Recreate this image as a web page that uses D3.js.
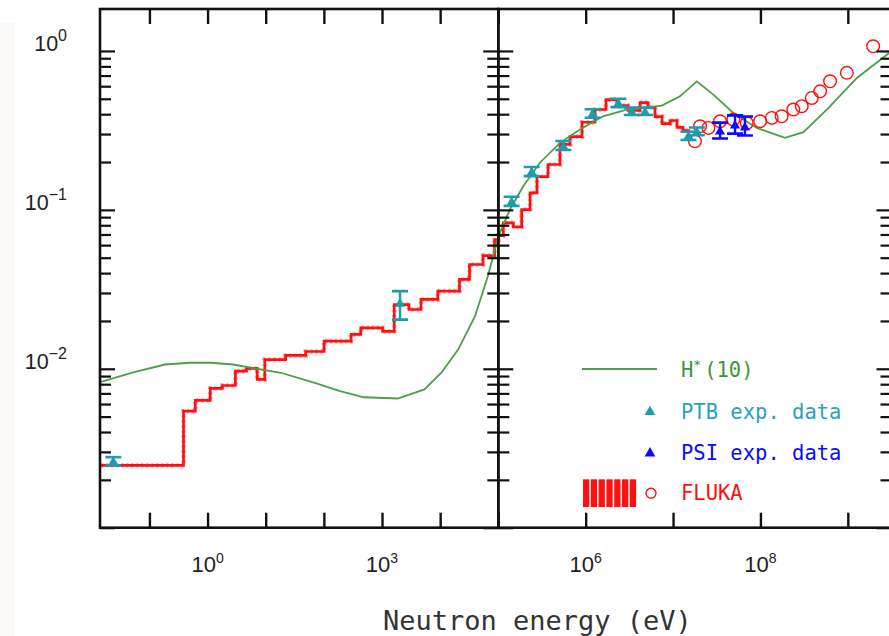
<!DOCTYPE html>
<html>
<head>
<meta charset="utf-8">
<script src="https://cdn.jsdelivr.net/npm/d3@7"></script>
<style>
  body { margin: 0; background: #fff; }
  svg { display: block; }
</style>
</head>
<body>
<div id="chart"></div>
<script>
// --- Data, energies in eV ---
// H*(10) conversion curve: [energy, value]
const hStar10 = [
  [0.0141, 0.00824], [0.0525, 0.00948], [0.186, 0.01064], [0.501, 0.01091],
  [1.12, 0.01091], [2.75, 0.01064], [8.13, 0.00991], [18.2, 0.00944],
  [67.6, 0.00817], [191, 0.00723], [490, 0.00662], [1860, 0.00650],
  [5370, 0.00741], [1.05e4, 0.00944], [2.04e4, 0.0132], [3.98e4, 0.0214],
  [6.61e4, 0.0382], [1e5, 0.0682], [1.36e5, 0.1005], [1.93e5, 0.1406],
  [3.0e5, 0.198], [5.08e5, 0.264], [8.61e5, 0.320], [1.58e6, 0.388],
  [2.95e6, 0.428], [7.43e6, 0.453], [1.2e7, 0.518], [1.87e7, 0.644],
  [2.89e7, 0.531], [4.9e7, 0.407], [9.08e7, 0.328], [1.91e8, 0.284],
  [3.1e8, 0.308], [5.75e8, 0.428], [1.27e9, 0.676], [2.97e9, 0.970]
];

// FLUKA low-energy groups: [lower edge, value]; last group ends at flukaGroupEnd
const flukaGroups = [
  [0.01, 0.00247], [0.386, 0.00541], [0.615, 0.00632], [1.11, 0.00752],
  [1.80, 0.00785], [3.01, 0.00966], [4.67, 0.01005], [7.13, 0.00857],
  [9.64, 0.01143], [22.0, 0.01213], [48.6, 0.01285], [101, 0.01493],
  [294, 0.01644], [432, 0.01811], [1023, 0.01722], [1622, 0.02535],
  [2911, 0.0236], [4688, 0.0273], [9100, 0.0308], [2.15e4, 0.0365],
  [3.2e4, 0.0453], [5.45e4, 0.0516], [8.63e4, 0.065], [1e5, 0.0689],
  [1.14e5, 0.0828], [1.49e5, 0.078], [1.85e5, 0.1005], [2.31e5, 0.128],
  [2.77e5, 0.162], [3.71e5, 0.193], [5.08e5, 0.258], [6.62e5, 0.289],
  [9.08e5, 0.356], [1.28e6, 0.428], [1.71e6, 0.494], [2.29e6, 0.453],
  [3.05e6, 0.422], [4.19e6, 0.473], [5.18e6, 0.441], [6.22e6, 0.386],
  [7.48e6, 0.349], [9.25e6, 0.365], [1.11e7, 0.330], [1.30e7, 0.315]
];
const flukaGroupEnd = 1.56e7;

// FLUKA high-energy points (circles)
const flukaHigh = [
  [1.78e7, 0.270], [2.04e7, 0.336], [2.54e7, 0.328], [3.45e7, 0.361],
  [4.9e7, 0.370], [6.98e7, 0.352], [9.91e7, 0.361], [1.35e8, 0.379],
  [1.75e8, 0.388], [2.38e8, 0.428], [2.97e8, 0.449], [3.87e8, 0.506],
  [4.82e8, 0.557], [6.27e8, 0.644], [9.75e8, 0.728], [1.95e9, 1.07]
];

// PTB experimental data: [energy, value, low, high]
const ptbData = [
  [0.0239, 0.00262, 0.00247, 0.00278],
  [2040, 0.026, 0.0204, 0.0308],
  [1.42e5, 0.113, 0.106, 0.121],
  [2.41e5, 0.174, 0.163, 0.186],
  [5.55e5, 0.254, 0.238, 0.271],
  [1.2e6, 0.405, 0.38, 0.43],
  [2.37e6, 0.471, 0.443, 0.50],
  [3.37e6, 0.417, 0.395, 0.44],
  [4.78e6, 0.417, 0.395, 0.44],
  [1.5e7, 0.293, 0.275, 0.31],
  [1.87e7, 0.312, 0.295, 0.33]
];

// PSI experimental data: [energy, value, low, high]
const psiData = [
  [3.45e7, 0.315, 0.281, 0.354],
  [5.12e7, 0.344, 0.302, 0.393],
  [6.65e7, 0.334, 0.294, 0.387]
];

// axes
const yDomain = [1e-3, Math.pow(10, 0.264)];
const yLabelExps = [0, -1, -2];
const xDomainLow = [Math.pow(10, -1.85), 1e5];
const xDomainHigh = [1e5, Math.pow(10, 9.5)];
const xLabelExpsLow = [0, 3];
const xLabelExpsHigh = [6, 8];
const xTitle = "Neutron energy (eV)";

const legendItems = ["H", "PTB exp. data", "PSI exp. data", "FLUKA"];

// --- Colors ---
const cGreen = "#4b9f46";
const cTeal = "#1d9cb0";
const cBlue = "#0a0aff";
const cRed = "#ff1010";
const cAxis = "#111";

const width = 889, height = 636;
const plotTop = 9, plotBottom = 527.7;
const xSplit = 498.3;

const svg = d3.select("#chart").append("svg")
  .attr("width", width)
  .attr("height", height);

// faint strip at the left edge
svg.append("rect").attr("x", 0).attr("y", 23).attr("width", 15).attr("height", height - 23)
  .attr("fill", "#fbf8f8");

const y = d3.scaleLog().domain(yDomain).range([plotBottom, plotTop]);

const panels = [
  { id: "low", x: d3.scaleLog().domain(xDomainLow).range([100, xSplit]), exps: xLabelExpsLow },
  { id: "high", x: d3.scaleLog().domain(xDomainHigh).range([xSplit, 891.5]), exps: xLabelExpsHigh }
];

const isDecade = v => Math.abs(Math.log10(v) - Math.round(Math.log10(v))) < 1e-9;
const yAll = y.ticks();
const yMajor = yAll.filter(isDecade);
const yMinor = yAll.filter(v => !isDecade(v));

// FLUKA step path points
const stepPts = [];
flukaGroups.forEach((g, i) => {
  const hi = i < flukaGroups.length - 1 ? flukaGroups[i + 1][0] : flukaGroupEnd;
  stepPts.push([g[0], g[1]], [hi, g[1]]);
});

panels.forEach(p => {
  const x = p.x;
  const [r0, r1] = x.range();

  svg.append("clipPath").attr("id", "clip-" + p.id)
    .append("rect")
    .attr("x", r0).attr("y", plotTop)
    .attr("width", r1 - r0).attr("height", plotBottom - plotTop);

  const g = svg.append("g").attr("clip-path", `url(#clip-${p.id})`);

  const line = d3.line().x(d => x(d[0])).y(d => y(d[1]));

  // FLUKA histogram (hatched edge + main line)
  g.append("path")
    .attr("d", line(stepPts))
    .attr("fill", "none")
    .attr("stroke", cRed)
    .attr("stroke-width", 4.6)
    .attr("stroke-dasharray", "2,3")
    .attr("opacity", 0.4);
  g.append("path")
    .attr("d", line(stepPts))
    .attr("fill", "none")
    .attr("stroke", cRed)
    .attr("stroke-width", 2.7);

  // H*(10)
  g.append("path")
    .attr("d", line(hStar10))
    .attr("fill", "none")
    .attr("stroke", cGreen)
    .attr("stroke-width", 1.8);

  // FLUKA circles
  g.selectAll("circle.fluka")
    .data(flukaHigh)
    .join("circle")
    .attr("class", "fluka")
    .attr("cx", d => x(d[0]))
    .attr("cy", d => y(d[1]))
    .attr("r", 6.3)
    .attr("fill", "none")
    .attr("stroke", cRed)
    .attr("stroke-width", 1.4);

  // experimental points with error bars
  const tri = d3.symbol(d3.symbolTriangle, 45);
  [[ptbData, cTeal], [psiData, cBlue]].forEach(([data, col]) => {
    const pts = g.append("g").selectAll("g")
      .data(data)
      .join("g")
      .attr("transform", d => `translate(${x(d[0])},0)`);
    pts.append("line")
      .attr("y1", d => y(d[2])).attr("y2", d => y(d[3]))
      .attr("stroke", col).attr("stroke-width", 2.4);
    [2, 3].forEach(k => {
      pts.append("line")
        .attr("x1", -8).attr("x2", 8)
        .attr("y1", d => y(d[k])).attr("y2", d => y(d[k]))
        .attr("stroke", col).attr("stroke-width", 2.6);
    });
    pts.append("path")
      .attr("d", tri)
      .attr("transform", d => `translate(0,${y(d[1]) + 1})`)
      .attr("fill", col);
  });

  // x ticks (bottom up, top down)
  const decades = x.ticks().filter(isDecade);
  const xb = svg.append("g")
    .attr("transform", `translate(0,${plotBottom})`)
    .call(d3.axisTop(x).tickValues(decades).tickSize(15).tickFormat(""));
  const xt = svg.append("g")
    .attr("transform", `translate(0,${plotTop})`)
    .call(d3.axisBottom(x).tickValues(decades).tickSize(15).tickFormat(""));
  [xb, xt].forEach(a => {
    a.select(".domain").remove();
    a.selectAll("line").attr("stroke", cAxis).attr("stroke-width", 2.4);
  });

  // x tick labels
  const lab = svg.append("g")
    .selectAll("text")
    .data(p.exps)
    .join("text")
    .attr("x", d => x(Math.pow(10, d)))
    .attr("y", 571.7)
    .attr("text-anchor", "middle")
    .attr("font-family", "'Liberation Sans', Arial, sans-serif")
    .attr("font-size", 22)
    .attr("fill", "#222");
  lab.append("tspan").text("10");
  lab.append("tspan").attr("dy", -9).attr("font-size", 14).text(d => d);
});

// y axes: left (inward), divider (both sides), right (inward)
function yAxis(xPos, dir) {
  const mk = dir > 0 ? d3.axisRight : d3.axisLeft;
  [[yMinor, 11], [yMajor, 15]].forEach(([vals, size]) => {
    const a = svg.append("g")
      .attr("transform", `translate(${xPos},0)`)
      .call(mk(y).tickValues(vals).tickSize(size).tickFormat(""));
    a.select(".domain").remove();
    a.selectAll("line").attr("stroke", cAxis).attr("stroke-width", 2.2);
  });
}
yAxis(100, 1);
yAxis(xSplit, -1);
yAxis(xSplit, 1);
yAxis(891.5, -1);

// frames
panels.forEach(p => {
  const [r0, r1] = p.x.range();
  svg.append("rect")
    .attr("x", r0).attr("y", plotTop)
    .attr("width", r1 - r0).attr("height", plotBottom - plotTop)
    .attr("fill", "none")
    .attr("stroke", cAxis)
    .attr("stroke-width", 2.6);
});

// y tick labels
const yl = svg.append("g")
  .selectAll("text")
  .data(yLabelExps)
  .join("text")
  .attr("x", 67)
  .attr("y", d => y(Math.pow(10, d)) + 0.5)
  .attr("text-anchor", "end")
  .attr("font-family", "'Liberation Sans', Arial, sans-serif")
  .attr("font-size", 21.5)
  .attr("fill", "#222");
yl.append("tspan").text("10");
yl.append("tspan").attr("dy", -10).attr("font-size", 16).text(d => d === 0 ? "0" : "\u2212" + Math.abs(d));

// x title
svg.append("text")
  .attr("x", 383)
  .attr("y", 630)
  .attr("font-family", "'DejaVu Sans Mono', monospace")
  .attr("font-size", 27)
  .attr("fill", "#333")
  .text(xTitle);

// --- Legend ---
const leg = svg.append("g");
const legFont = "'DejaVu Sans Mono', monospace";

leg.append("line")
  .attr("x1", 582).attr("x2", 657).attr("y1", 369).attr("y2", 369)
  .attr("stroke", cGreen).attr("stroke-width", 2);
const hText = leg.append("text")
  .attr("x", 681).attr("y", 376.7)
  .attr("font-family", legFont).attr("font-size", 20.5)
  .attr("fill", "#3a963a");
hText.append("tspan").text(legendItems[0]);
hText.append("tspan").attr("dy", -8).attr("font-size", 13).text("*");
hText.append("tspan").attr("dy", 8).attr("dx", 3).text("(10)");

const tri = d3.symbol(d3.symbolTriangle, 50);
[[legendItems[1], cTeal, "#2aa2b9", 412, 419], [legendItems[2], cBlue, cBlue, 453.3, 460]].forEach(([t, c, tc, ym, yb]) => {
  leg.append("path").attr("d", tri).attr("transform", `translate(650,${ym})`).attr("fill", c);
  leg.append("text")
    .attr("x", 681).attr("y", yb)
    .attr("font-family", legFont).attr("font-size", 20.5)
    .attr("fill", tc)
    .text(t);
});

// FLUKA swatch: red bars block + circle
leg.append("g").selectAll("rect")
  .data(d3.range(7))
  .join("rect")
  .attr("x", i => 583 + i * 7.8)
  .attr("y", 479.3)
  .attr("width", 6.3)
  .attr("height", 27.7)
  .attr("fill", cRed);
leg.append("circle")
  .attr("cx", 651).attr("cy", 493.3).attr("r", 5)
  .attr("fill", "none").attr("stroke", cRed).attr("stroke-width", 1.4);
leg.append("text")
  .attr("x", 681).attr("y", 500)
  .attr("font-family", legFont).attr("font-size", 20.5)
  .attr("fill", cRed)
  .text(legendItems[3]);
</script>
</body>
</html>
